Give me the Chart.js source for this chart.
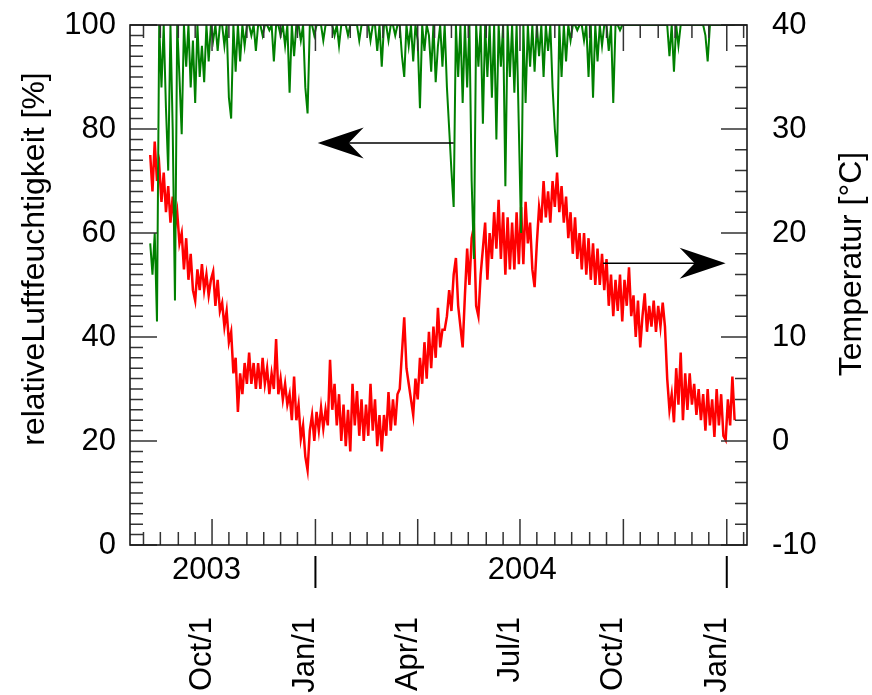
<!DOCTYPE html>
<html>
<head>
<meta charset="utf-8">
<script src="https://cdn.jsdelivr.net/npm/chart.js@4.4.1/dist/chart.umd.min.js"></script>
<style>
    html, body { margin: 0; padding: 0; background: #fff; }
    canvas { display: block; }
</style>
</head>
<body>
<canvas id="grafico" width="872" height="695"></canvas>
<script>
// Messreihe: erster Wert und Abstand zwischen den Werten (Tage)
var startDatum = '2003-08-07';
var schrittTage = 2;

// Temperatur [°C] (abwechselnd Spitze / Tal)
var temperatur = [
    27.5, 24, 28.8, 25,   26.5, 23, 25.8, 22,   24.5, 21, 23.5, 20.5,  22, 19, 20, 16.5,
    19.5, 15.5, 18, 14.5, 13.5, 16.5, 14.5, 17, 14.5, 16, 14, 15.5,    16.3, 13, 15.5, 12.5,
    13.3, 11, 12.5, 9.5,  10.5, 6.5, 8, 2.8,    6.5, 4.5, 7.5, 5.5,    8.5, 5.5, 7.5, 5,
    7.5, 5, 8, 5.5,       7, 4.5, 6.5, 5,       9.8, 4.5, 6, 4,        5.5, 3.5, 4.5, 2,
    6.2, 2, 3.5, 0.2,     1.5, -1.5, -2.8, 1,   2.5, 0, 2.8, 1,        3.2, 1.2, 3, 1.5,
    7.8, 3, 5.5, 1.5,     4.5, 0, 3.5, -0.5,    3, -1, 5.5, 1.5,       4.8, 0.5, 4, 0,
    3.5, 0.5, 5.5, 1,     4, -0.5, 2.5, -1,     2.5, 0.5, 4.7, 1,      4, 1.5, 4.5, 5,
    8.5, 11.9, 7, 5.5,    4, 2.5, 6, 4,         8, 5.5, 9.5, 6,        10.5, 7, 11, 8,
    12.8, 9, 10.7, 10.7,  12, 14.5, 12.5, 16,   17.6, 13, 11, 9,       14, 18.5, 15, 19.5,
    20.6, 13, 12, 16,     18.5, 21, 15.5, 20,   17.5, 22, 18.5, 23.2,  17.5, 22, 16, 21.5,
    16.5, 21, 16.5, 22,   17, 22.5, 17, 23,     19, 21, 16.5, 14.8,    19, 22.5, 21, 25,
    21.5, 24, 21, 25,     22.5, 25.8, 22, 24.5, 21, 23.5, 19.5, 22,    18, 21.5, 17.5, 20,
    16.5, 20, 16, 19.5,   15.5, 19, 15, 18.5,   15, 18, 14.5, 17.5,    13, 16, 12, 15.5,
    12.5, 16, 11.5, 15.5, 13, 16.7, 12, 14,     10, 13.5, 9, 12,       14.2, 10.5, 13, 11,
    13.5, 10.5, 13, 11,   13.3, 11, 6, 3,       4.5, 1.8, 7, 3.5,      8.5, 2, 6.5, 3,
    6.5, 3.5, 5.5, 2.5,   5, 2, 4.5, 1,         5, 1.5, 4, 0.4,        5, 1.5, 4.5, 0.5,
    0.1, 4, 1.5, 6.2,     2
];

// relative Luftfeuchtigkeit [%], gleiche Zeitpunkte
var feuchte = [
    58, 52, 60, 43,       100, 88, 100, 84,     72, 100, 80, 47,       100, 90, 79, 100,
    92, 100, 88, 97,      85, 100, 90, 96,      89, 100, 93, 100,      97, 100, 95, 100,
    100, 96, 100, 86,     82, 100, 91, 100,     93, 100, 96, 100,      100, 98, 100, 95,
    100, 100, 98, 100,    100, 99, 100, 93,     100, 100, 98, 100,     96, 100, 87, 100,
    94, 100, 100, 97,     100, 88, 83, 100,     100, 98, 100, 100,     100, 97, 100, 100,
    100, 100, 98, 100,    96, 100, 100, 100,    98, 100, 100, 100,     100, 97, 100, 100,
    100, 100, 97, 100,    100, 95, 100, 92,     100, 100, 97, 100,     100, 98, 100, 100,
    94, 90, 100, 96,      100, 93, 100, 97,     84, 100, 95, 100,      98, 91, 100, 89,
    96, 100, 92, 100,     88, 80, 72, 65,       100, 90, 100, 85,      100, 88, 100, 70,
    55, 100, 92, 100,     81, 100, 90, 100,     86, 100, 78, 100,      92, 100, 69, 100,
    90, 100, 87, 100,     80, 60, 100, 85,      100, 92, 100, 91,      100, 94, 100, 90,
    100, 95, 100, 88,     80, 74.6, 100, 90,    100, 93, 100, 97,      100, 100, 99, 100,
    100, 97, 100, 90,     100, 86, 100, 93,     100, 96, 100, 100,     95, 100, 85, 100,
    100, 99, 100, 100,    100, 100, 100, 100,   100, 100, 100, 100,    100, 100, 100, 100,
    100, 100, 100, 100,   100, 100, 100, 94,    100, 91, 100, 96,      100, 100, 100, 100,
    100, 100, 100, 100,   100, 100, 100, 98,    93, 100, 100, 100,     100, 100, 100, 100,
    100, 100, 100, 100,   100
];

// Achsen
var achseVon = '2003-07-20';
var achseBis = '2005-01-19';
var monatDaten = ['2003-10-01', '2004-01-01', '2004-04-01', '2004-07-01', '2004-10-01', '2005-01-01'];
var monatLabels = ['Oct/1', 'Jan/1', 'Apr/1', 'Jul/1', 'Oct/1', 'Jan/1'];
var jahrLabels = ['2003', '2004'];
var jahrMitte = ['2003-09-26', '2004-07-03'];
var jahrGrenzen = ['2004-01-01', '2005-01-01'];

var schrift = "'Liberation Sans', Arial, sans-serif";

function tag(texto) {
    var p = texto.split('-');
    return Date.UTC(+p[0], +p[1] - 1, +p[2]) / 86400000;
}

var start = tag(startDatum);
var pontosTemp = temperatur.map(function (v, i) { return {x: start + i * schrittTage, y: v}; });
var pontosFeuchte = feuchte.map(function (v, i) { return {x: start + i * schrittTage, y: v}; });

function seta(ctx, x0, y0, x1, y1) {
    var ang = Math.atan2(y1 - y0, x1 - x0);
    var len = Math.hypot(x1 - x0, y1 - y0);
    ctx.save();
    ctx.translate(x1, y1);
    ctx.rotate(ang);
    ctx.strokeStyle = '#000';
    ctx.lineWidth = 1.5;
    ctx.beginPath();
    ctx.moveTo(-len, 0);
    ctx.lineTo(-30, 0);
    ctx.stroke();
    ctx.fillStyle = '#000';
    ctx.beginPath();
    ctx.moveTo(0, 0);
    ctx.lineTo(-46, -15.5);
    ctx.lineTo(-31, 0);
    ctx.lineTo(-46, 15.5);
    ctx.closePath();
    ctx.fill();
    ctx.restore();
}

var desenhoEixos = {
    id: 'desenhoEixos',
    afterDatasetsDraw: function (chart) {
        var ctx = chart.ctx;
        var a = chart.chartArea;
        var sx = chart.scales.x, sy = chart.scales.y, sy1 = chart.scales.y1;
        ctx.save();

        // Pfeile
        seta(ctx, sx.getPixelForValue(tag('2004-05-03')), sy.getPixelForValue(77.3),
                  sx.getPixelForValue(tag('2004-01-03')), sy.getPixelForValue(77.3));
        seta(ctx, sx.getPixelForValue(tag('2004-09-13')), sy1.getPixelForValue(17.1),
                  sx.getPixelForValue(tag('2004-12-31')), sy1.getPixelForValue(17.1));

        ctx.strokeStyle = '#333';
        ctx.lineWidth = 1.5;
        ctx.beginPath();
        // links: alle 2 %
        for (var v = 0; v <= 100; v += 2) {
            var py = sy.getPixelForValue(v);
            ctx.moveTo(a.left, py);
            ctx.lineTo(a.left + (v % 20 === 0 ? 27 : 13), py);
        }
        // rechts: alle 2 °C
        for (var t = -10; t <= 40; t += 2) {
            var py1 = sy1.getPixelForValue(t);
            ctx.moveTo(a.right, py1);
            ctx.lineTo(a.right - (t % 10 === 0 ? 26 : 12), py1);
        }
        // unten und oben: am 1. und 16. jedes Monats
        var min = tag(achseVon), max = tag(achseBis);
        for (var j = 2003; j <= 2005; j++) {
            for (var m = 0; m < 12; m++) {
                [1, 16].forEach(function (d) {
                    var dv = Date.UTC(j, m, d) / 86400000;
                    if (dv <= min || dv >= max) return;
                    var px = sx.getPixelForValue(dv);
                    var lang = (d === 1 && m % 3 === 0) ? 26 : 13;
                    ctx.moveTo(px, a.bottom);
                    ctx.lineTo(px, a.bottom - lang);
                    ctx.moveTo(px, a.top);
                    ctx.lineTo(px, a.top + lang);
                });
            }
        }
        ctx.stroke();

        ctx.strokeStyle = '#1a1a1a';
        ctx.lineWidth = 1.6;
        ctx.strokeRect(a.left, a.top, a.right - a.left, a.bottom - a.top);

        // Beschriftung der Zeitachse
        ctx.fillStyle = '#000';
        ctx.font = '31px ' + schrift;
        monatDaten.forEach(function (d, i) {
            var px = sx.getPixelForValue(tag(d));
            ctx.save();
            ctx.translate(px - 1, 617);
            ctx.rotate(-Math.PI / 2);
            ctx.textAlign = 'right';
            ctx.textBaseline = 'alphabetic';
            ctx.fillText(monatLabels[i], 0, 0);
            ctx.restore();
        });
        ctx.textAlign = 'center';
        ctx.textBaseline = 'alphabetic';
        jahrLabels.forEach(function (j, i) {
            ctx.fillText(j, sx.getPixelForValue(tag(jahrMitte[i])), 579);
        });
        ctx.strokeStyle = '#000';
        ctx.lineWidth = 2;
        ctx.beginPath();
        jahrGrenzen.forEach(function (d) {
            var px = sx.getPixelForValue(tag(d));
            ctx.moveTo(px, 556);
            ctx.lineTo(px, 588);
        });
        ctx.stroke();

        // Achsentitel
        ctx.font = '32px ' + schrift;
        ctx.textBaseline = 'middle';
        ctx.save();
        ctx.translate(35, 259);
        ctx.rotate(-Math.PI / 2);
        ctx.fillText('relativeLuftfeuchtigkeit [%]', 0, 0);
        ctx.restore();
        ctx.save();
        ctx.translate(852, 264);
        ctx.rotate(-Math.PI / 2);
        ctx.fillText('Temperatur [°C]', 0, 0);
        ctx.restore();

        ctx.restore();
    }
};

new Chart(document.getElementById('grafico').getContext('2d'), {
    type: 'line',
    data: {
        datasets: [{
            label: 'relative Luftfeuchtigkeit [%]',
            data: pontosFeuchte,
            yAxisID: 'y',
            borderColor: '#008000',
            borderWidth: 2,
            pointRadius: 0,
            tension: 0
        }, {
            label: 'Temperatur [°C]',
            data: pontosTemp,
            yAxisID: 'y1',
            borderColor: '#ff0000',
            borderWidth: 2.5,
            pointRadius: 0,
            tension: 0
        }]
    },
    options: {
        responsive: false,
        animation: false,
        layout: { padding: { top: 25 } },
        plugins: {
            legend: { display: false },
            tooltip: { enabled: false }
        },
        scales: {
            x: {
                type: 'linear',
                min: tag(achseVon),
                max: tag(achseBis),
                ticks: { display: false },
                grid: { display: false, drawTicks: false },
                border: { display: false },
                afterFit: function (s) { s.height = 150; }
            },
            y: {
                position: 'left',
                min: 0,
                max: 100,
                ticks: { stepSize: 20, padding: 14, color: '#000', font: { size: 31, family: schrift } },
                grid: { display: false, drawTicks: false },
                border: { display: false },
                afterFit: function (s) { s.width = 130; s.paddingTop = 0; s.paddingBottom = 0; }
            },
            y1: {
                position: 'right',
                min: -10,
                max: 40,
                ticks: { stepSize: 10, padding: 25, color: '#000', font: { size: 31, family: schrift } },
                grid: { display: false, drawTicks: false },
                border: { display: false },
                afterFit: function (s) { s.width = 125; s.paddingTop = 0; s.paddingBottom = 0; }
            }
        }
    },
    plugins: [desenhoEixos]
});
</script>
</body>
</html>
